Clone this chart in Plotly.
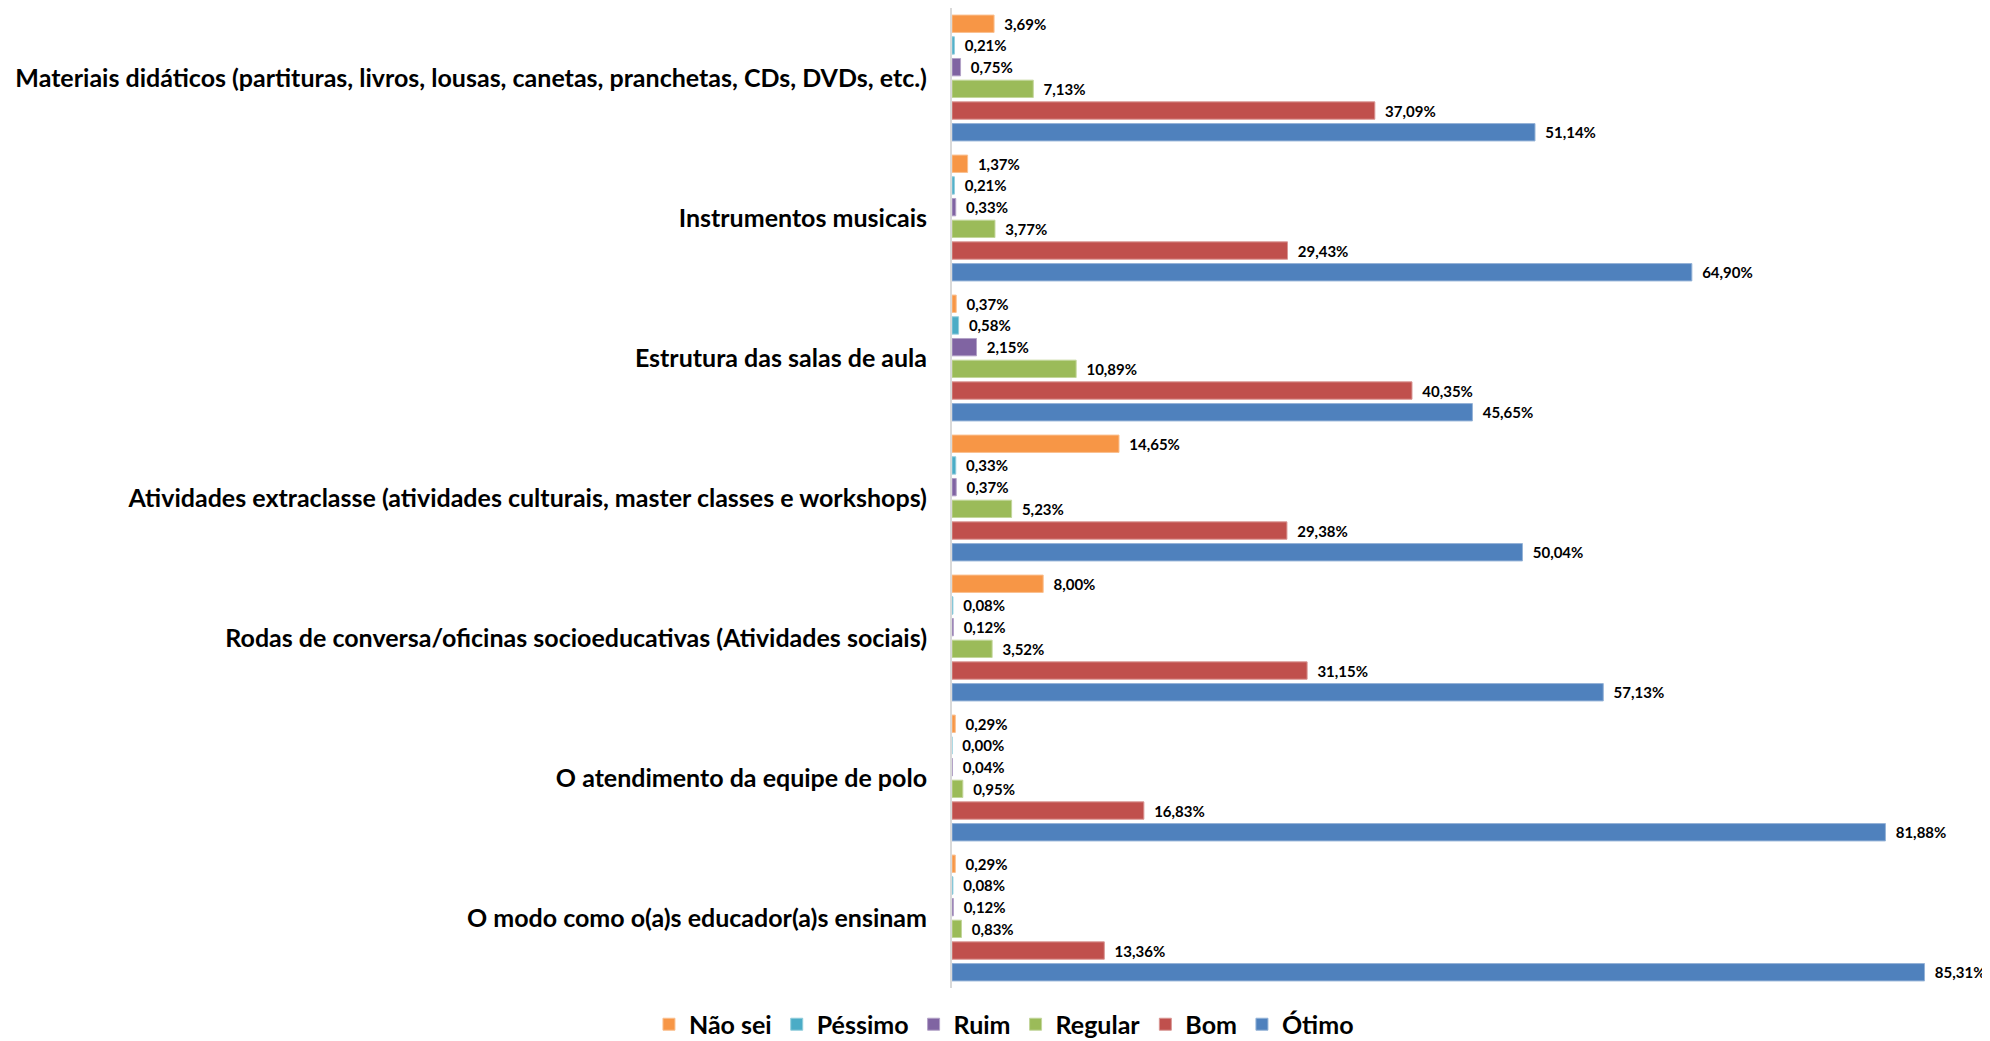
import plotly.graph_objects as go

categories = [
    "Materiais didáticos (partituras, livros, lousas, canetas, pranchetas, CDs, DVDs, etc.)",
    "Instrumentos musicais",
    "Estrutura das salas de aula",
    "Atividades extraclasse (atividades culturais, master classes e workshops)",
    "Rodas de conversa/oficinas socioeducativas (Atividades sociais)",
    "O atendimento da equipe de polo",
    "O modo como o(a)s educador(a)s ensinam",
]

series_names = ["Não sei", "Péssimo", "Ruim", "Regular", "Bom", "Ótimo"]

nao_sei = [3.69, 1.37, 0.37, 14.65, 8.00, 0.29, 0.29]
pessimo = [0.21, 0.21, 0.58, 0.33, 0.08, 0.00, 0.08]
ruim = [0.75, 0.33, 2.15, 0.37, 0.12, 0.04, 0.12]
regular = [7.13, 3.77, 10.89, 5.23, 3.52, 0.95, 0.83]
bom = [37.09, 29.43, 40.35, 29.38, 31.15, 16.83, 13.36]
otimo = [51.14, 64.90, 45.65, 50.04, 57.13, 81.88, 85.31]

series_values = [nao_sei, pessimo, ruim, regular, bom, otimo]
colors = ["#F79646", "#4BACC6", "#8064A2", "#9BBB59", "#C0504D", "#4F81BD"]
edge_colors = ["#FAC090", "#92CDDC", "#B3A2C7", "#C3D69B", "#D99694", "#95B3D7"]

FONT = "Lato"

fig = go.Figure()
for name, vals, col, edge in zip(series_names, series_values, colors, edge_colors):
    fig.add_trace(go.Bar(
        name=name,
        y=categories,
        x=vals,
        orientation="h",
        marker=dict(color=col, line=dict(color=edge, width=1)),
        texttemplate="\u00a0\u00a0%{x:.2f}%",
        textposition="outside",
        cliponaxis=False,
        constraintext="none",
        textfont=dict(family=FONT, size=15, color="#000000", weight="bold"),
        hoverinfo="skip",
    ))

# page body adds an 8px margin, so the figure is sized to fit the window
fig.update_layout(
    width=1982,
    height=1033,
    barmode="group",
    bargap=0.07,
    bargroupgap=0.2,
    separators=",.",
    paper_bgcolor="white",
    plot_bgcolor="white",
    margin=dict(l=944, r=12, t=0, b=53, autoexpand=False),
    font=dict(family=FONT, color="#000000"),
    xaxis=dict(
        range=[0, 90],
        automargin=False,
        showgrid=False,
        zeroline=False,
        showticklabels=False,
        showline=False,
        ticks="",
    ),
    yaxis=dict(
        autorange="reversed",
        automargin=False,
        showgrid=False,
        showline=True,
        linecolor="#D9D9D9",
        linewidth=2,
        ticks="",
        ticklabelstandoff=18,
        tickfont=dict(family=FONT, size=25, color="#000000", weight="bold"),
    ),
    legend=dict(
        orientation="h",
        traceorder="normal",
        xref="container",
        yref="container",
        x=0.5025,
        xanchor="center",
        y=0.016,
        yanchor="middle",
        font=dict(family=FONT, size=25, color="#000000", weight="bold"),
        itemwidth=30,
    ),
)

fig.write_html("out.html")
